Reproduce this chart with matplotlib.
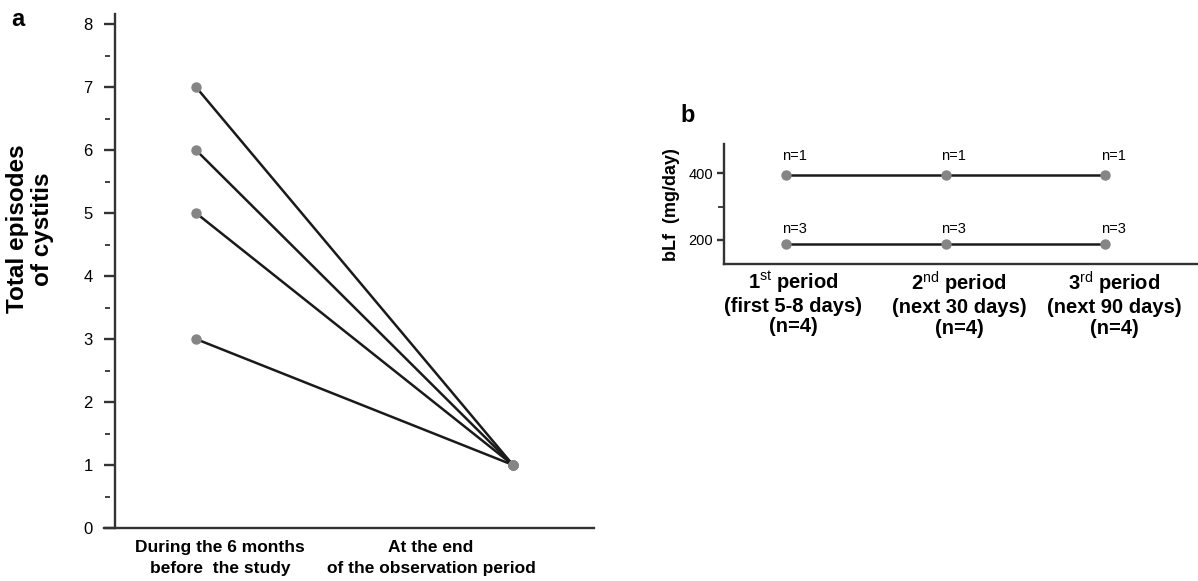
import numpy as np
import matplotlib
matplotlib.use("Agg")
from matplotlib import pyplot as plt

plt.rcParams['font.family'] = ['Liberation Sans', 'DejaVu Sans']
plt.rcParams['mathtext.fontset'] = 'custom'
plt.rcParams['mathtext.rm'] = 'Liberation Sans'
plt.rcParams['mathtext.bf'] = 'Liberation Sans:bold'

# panel a: episodes before vs. at end of observation
episodes_before = [7, 6, 5, 3]
episodes_after = [1, 1, 1, 1]
a_labels = ["During the 6 months\nbefore  the study",
            "At the end\nof the observation period"]

# panel b: bLf dose per period
periods = [0, 1, 2]
dose_high = [394, 394, 394]
dose_low = [188, 188, 188]
n_high = ["n=1", "n=1", "n=1"]
n_low = ["n=3", "n=3", "n=3"]
b_labels = ["1$^{\\mathrm{st}}$ period\n(first 5-8 days)\n(n=4)",
            "2$^{\\mathrm{nd}}$ period\n(next 30 days)\n(n=4)",
            "3$^{\\mathrm{rd}}$ period\n(next 90 days)\n(n=4)"]

W, H = 1198, 581
line_c = '#1a1a1a'
spine_c = '#333333'
dot_c = '#858585'

fig = plt.figure(figsize=(W / 100, H / 100), dpi=100)


def px_axes(l, t, r, b):
    return fig.add_axes([l / W, 1 - b / H, (r - l) / W, (b - t) / H])


def style(ax, major_len):
    for s in ['top', 'right']:
        ax.spines[s].set_visible(False)
    for s in ['left', 'bottom']:
        ax.spines[s].set_linewidth(1.7)
        ax.spines[s].set_color(spine_c)
    ax.tick_params(axis='y', length=major_len, width=1.7, color=spine_c)
    ax.tick_params(axis='x', length=0)
    ax.set_xticks([])


def minor_dashes(ax, ys, x0px, x1px, width_px):
    tr = ax.get_yaxis_transform()
    for y in ys:
        ax.plot([x0px / width_px, x1px / width_px], [y, y], color=spine_c,
                lw=1.3, transform=tr, clip_on=False, solid_capstyle='butt')


# ---- panel a ----
axa = px_axes(115, 14, 594, 528)
style(axa, 8)
axa.set_xlim(-0.2555, 1.2555)
axa.set_ylim(0, 8.16)
axa.set_yticks(range(0, 9))
axa.tick_params(axis='y', labelsize=12, pad=8)
minor_dashes(axa, np.arange(0.5, 8, 1), -10, -5, 479)
for yb, ya in zip(episodes_before, episodes_after):
    axa.plot([0, 1], [yb, ya], color=line_c, lw=1.8, zorder=2)
    axa.plot([0, 1], [yb, ya], ls='none', marker='o', ms=6.5,
             color=dot_c, zorder=3)
axa.spines['bottom'].set_bounds(-0.29, 1.2555)
axa.text(0.076, -0.19, a_labels[0], ha='center', va='top',
         fontsize=12.5, fontweight='bold', linespacing=1.5)
axa.text(0.741, -0.19, a_labels[1], ha='center', va='top',
         fontsize=12.5, fontweight='bold', linespacing=1.5)
fig.text(30 / W, 1 - 229 / H, "Total episodes\nof cystitis", rotation=90,
         ha='center', va='center', fontsize=17.5, fontweight='bold',
         linespacing=1.1)
fig.text(18 / W, 1 - 20 / H, "a", ha='center', va='center',
         fontsize=17, fontweight='bold')

# ---- panel b ----
axb = px_axes(724, 144, 1198, 264)
style(axb, 5)
axb.set_xlim(-0.389, 2.583)
axb.set_ylim(128, 487)
axb.set_yticks([200, 400])
axb.tick_params(axis='y', labelsize=10.5, pad=3)
minor_dashes(axb, [300], -6, -1, 474)
for ys, ns in [(dose_high, n_high), (dose_low, n_low)]:
    axb.plot(periods, ys, color=line_c, lw=1.8, zorder=2)
    axb.plot(periods, ys, ls='none', marker='o', ms=6.5, color=dot_c,
             zorder=3)
for x, y, t in zip(periods, dose_high, n_high):
    axb.annotate(t, (x, y), xytext=(-3, 14), textcoords='offset points',
                 ha='left', va='center', fontsize=10.5)
for x, y, t in zip(periods, dose_low, n_low):
    axb.annotate(t, (x, y), xytext=(-3, 10.5), textcoords='offset points',
                 ha='left', va='center', fontsize=10.5)
for x, t in zip([0.044, 1.085, 2.056], b_labels):
    axb.text(x, 112, t, ha='center', va='top', fontsize=14.5,
             fontweight='bold', linespacing=1.12)
fig.text(672 / W, 1 - 205 / H, "bLf  (mg/day)", rotation=90,
         ha='center', va='center', fontsize=13, fontweight='bold')
fig.text(688 / W, 1 - 116 / H, "b", ha='center', va='center',
         fontsize=17, fontweight='bold')

fig.savefig("out.png", dpi=100)
